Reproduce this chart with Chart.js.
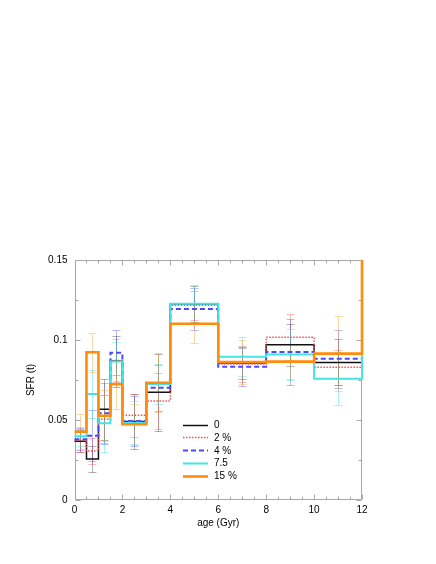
<!DOCTYPE html>
<html>
<head>
<meta charset="utf-8">
<script src="https://cdn.jsdelivr.net/npm/chart.js@4/dist/chart.umd.min.js"></script>
<style>
html,body{margin:0;padding:0;background:#fff;}
#wrap{width:436px;height:564px;}
</style>
</head>
<body>
<div id="wrap"><canvas id="c" width="436" height="564"></canvas></div>
<script>
// ---- data ----
const binEdges   = [0, 0.5, 1, 1.5, 2, 3, 4, 6, 8, 10, 12];
const binCenters = [0.25, 0.75, 1.25, 1.75, 2.5, 3.5, 5, 7, 9, 11];
const overflowValue = 0.16; // the step beyond 12 Gyr rises off the top of the axis

const seriesNames = ["0", "2 %", "4 %", "7.5", "15 %"];

const sfr0  = [0.0367, 0.0256, 0.0567, 0.0868, 0.0490, 0.0673, 0.1225, 0.0854, 0.0970, 0.0860];
const sfr2  = [0.0372, 0.0306, 0.0505, 0.0872, 0.0530, 0.0619, 0.1217, 0.0850, 0.1017, 0.0830];
const sfr4  = [0.0380, 0.0402, 0.0542, 0.0920, 0.0494, 0.0702, 0.1194, 0.0833, 0.0925, 0.0883];
const sfr7  = [0.0398, 0.0662, 0.0479, 0.0865, 0.0483, 0.0725, 0.1227, 0.0896, 0.0910, 0.0758];
const sfr15 = [0.0427, 0.0923, 0.0527, 0.0723, 0.0473, 0.0733, 0.1102, 0.0862, 0.0865, 0.0915];

const err0  = [0.0070, 0.0083, 0.0190, 0.0160, 0.0170, 0.0240, 0.0110, 0.0100, 0.0130, 0.0144];
const err2  = [0.0070, 0.0080, 0.0150, 0.0136, 0.0135, 0.0175, 0.0090, 0.0110, 0.0145, 0.0110];
const err4  = [0.0070, 0.0160, 0.0190, 0.0140, 0.0155, 0.0144, 0.0129, 0.0120, 0.0205, 0.0180];
const err7  = [0.0060, 0.0150, 0.0180, 0.0120, 0.0135, 0.0125, 0.0115, 0.0123, 0.0160, 0.0165];
const err15 = [0.0110, 0.0120, 0.0160, 0.0155, 0.0130, 0.0185, 0.0120, 0.0140, 0.0110, 0.0235];

const xTicks = [0, 2, 4, 6, 8, 10, 12];
const xTickLabels = ["0", "2", "4", "6", "8", "10", "12"];
const xMinorTicks = [0.5,1,1.5,2.5,3,3.5,4.5,5,5.5,6.5,7,7.5,8.5,9,9.5,10.5,11,11.5];
const yTicks = [0, 0.05, 0.1, 0.15];
const yTickLabels = ["0", "0.05", "0.1", "0.15"];
const yMinorTicks = [0.025, 0.075, 0.125];

const xTitle = "age (Gyr)";
const yTitle = "SFR (t)";

// ---- styles ----
const styles = [
  {color: "#111111", width: 1.5, dash: [],       err: "rgba(0,0,0,0.30)"},
  {color: "#f05050", width: 1.5, dash: [1.5,1.5], err: "rgba(240,60,60,0.35)"},
  {color: "#4a4af5", width: 2,   dash: [5,3],    err: "rgba(60,60,245,0.35)"},
  {color: "#45e3e3", width: 2,   dash: [],       err: "rgba(40,225,225,0.40)"},
  {color: "#ff8c0a", width: 2.6, dash: [],       err: "rgba(255,140,10,0.35)"}
];
const allVals = [sfr0, sfr2, sfr4, sfr7, sfr15];
const allErrs = [err0, err2, err4, err7, err15];

function stepPoints(vals) {
  return binEdges.map((x, i) => ({x: x, y: i < vals.length ? vals[i] : overflowValue}));
}

const datasets = allVals.map((vals, k) => ({
  label: seriesNames[k],
  data: stepPoints(vals),
  stepped: 'before',
  borderColor: styles[k].color,
  borderWidth: styles[k].width,
  borderDash: styles[k].dash,
  pointRadius: 0,
  fill: false,
  order: 4 - k,
  clip: {left: 2, top: 0, right: 2, bottom: 2}
}));

const FONT = "'Liberation Sans', Arial, Helvetica, sans-serif";
const AXIS_COLOR = "#a8a8a8";

const errPlugin = {
  id: 'errbars',
  beforeDatasetsDraw(chart) {
    const {ctx, chartArea, scales} = chart;
    ctx.save();
    ctx.beginPath();
    ctx.rect(chartArea.left, chartArea.top, chartArea.right - chartArea.left, chartArea.bottom - chartArea.top);
    ctx.clip();
    ctx.lineWidth = 1;
    allVals.forEach((vals, k) => {
      ctx.strokeStyle = styles[k].err;
      vals.forEach((v, i) => {
        const x = Math.round(scales.x.getPixelForValue(binCenters[i])) + 0.5;
        const y1 = Math.round(scales.y.getPixelForValue(v + allErrs[k][i])) + 0.5;
        const y2 = Math.round(scales.y.getPixelForValue(v - allErrs[k][i])) + 0.5;
        ctx.beginPath();
        ctx.moveTo(x, y1); ctx.lineTo(x, y2);
        ctx.moveTo(x - 4, y1); ctx.lineTo(x + 4, y1);
        ctx.moveTo(x - 4, y2); ctx.lineTo(x + 4, y2);
        ctx.stroke();
      });
    });
    ctx.restore();
  }
};

const framePlugin = {
  id: 'frame',
  beforeDatasetsDraw(chart) {
    const {ctx, chartArea: a, scales} = chart;
    ctx.save();
    ctx.strokeStyle = AXIS_COLOR;
    ctx.lineWidth = 1;
    ctx.beginPath();
    const L = Math.round(a.left) + 0.5, R = Math.round(a.right) - 0.5;
    const T = Math.round(a.top) + 0.5, B = Math.round(a.bottom) - 0.5;
    ctx.rect(L, T, R - L, B - T);
    const tick = (vals, len, horiz) => {
      vals.forEach(v => {
        if (horiz) {
          const x = Math.round(scales.x.getPixelForValue(v)) + 0.5;
          ctx.moveTo(x, B); ctx.lineTo(x, B - len);
          ctx.moveTo(x, T); ctx.lineTo(x, T + len);
        } else {
          const y = Math.round(scales.y.getPixelForValue(v)) + 0.5;
          ctx.moveTo(L, y); ctx.lineTo(L + len, y);
          ctx.moveTo(R, y); ctx.lineTo(R - len, y);
        }
      });
    };
    tick(xTicks, 5, true);
    tick(xMinorTicks, 3, true);
    tick(yTicks, 5, false);
    tick(yMinorTicks, 3, false);
    ctx.stroke();
    ctx.restore();
  }
};

const legendPlugin = {
  id: 'ownLegend',
  afterDraw(chart) {
    const {ctx} = chart;
    ctx.save();
    ctx.font = "10px " + FONT;
    ctx.textBaseline = 'middle';
    ctx.fillStyle = '#000';
    seriesNames.forEach((name, k) => {
      const y = 424.5 + k * 12.9;
      ctx.strokeStyle = styles[k].color;
      ctx.lineWidth = styles[k].width;
      ctx.setLineDash(styles[k].dash);
      ctx.beginPath();
      ctx.moveTo(183, Math.round(y) + 0.5);
      ctx.lineTo(208, Math.round(y) + 0.5);
      ctx.stroke();
      ctx.setLineDash([]);
      ctx.fillText(name, 214, y + 0.5);
    });
    ctx.restore();
  }
};

new Chart(document.getElementById('c'), {
  type: 'line',
  data: {datasets: datasets},
  options: {
    responsive: false,
    animation: false,
    devicePixelRatio: 1,
    layout: {padding: {left: 0, top: 260, right: 74, bottom: 0}},
    plugins: {legend: {display: false}, tooltip: {enabled: false}},
    scales: {
      x: {
        type: 'linear', min: 0, max: 12,
        grid: {display: false, drawTicks: false},
        border: {display: false},
        afterFit(s) { s.height = 64; },
        afterBuildTicks(s) { s.ticks = xTicks.map(v => ({value: v})); },
        ticks: {
          autoSkip: false, maxRotation: 0, padding: 4,
          color: '#000', font: {size: 10, family: FONT},
          callback: (v) => { const i = xTicks.indexOf(v); return i >= 0 ? xTickLabels[i] : ''; }
        },
        title: {display: true, text: xTitle, color: '#000', font: {size: 10, family: FONT}, padding: 35}
      },
      y: {
        type: 'linear', min: 0, max: 0.15,
        grid: {display: false, drawTicks: false},
        border: {display: false},
        afterFit(s) { s.width = 74.5; },
        afterBuildTicks(s) { s.ticks = yTicks.map(v => ({value: v})); },
        ticks: {
          autoSkip: false, padding: 7,
          color: '#000', font: {size: 10, family: FONT},
          callback: (v) => { const i = yTicks.findIndex(t => Math.abs(t - v) < 1e-9); return i >= 0 ? yTickLabels[i] : ''; }
        },
        title: {display: true, text: yTitle, color: '#000', font: {size: 10, family: FONT}, padding: 25}
      }
    }
  },
  plugins: [framePlugin, errPlugin, legendPlugin]
});
</script>
</body>
</html>
